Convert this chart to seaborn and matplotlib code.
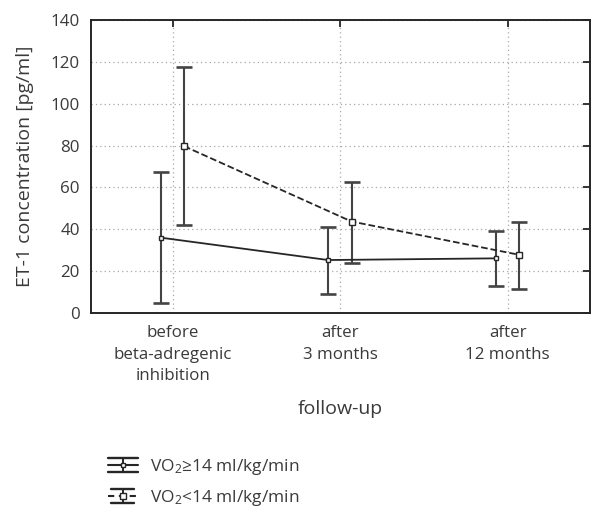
import numpy as np
import pandas as pd
import matplotlib
matplotlib.use("Agg")
import matplotlib.pyplot as plt
import seaborn as sns
from matplotlib.lines import Line2D
from matplotlib.legend_handler import HandlerBase

# values
periods = ["before\nbeta-adregenic\ninhibition", "after\n3 months", "after\n12 months"]
groups = ["VO$\\mathregular{_2}$\u226514 ml/kg/min", "VO$\\mathregular{_2}$<14 ml/kg/min"]
mean_hi = [36.0, 25.3, 26.1]
upper_hi = [67.3, 41.3, 39.4]
lower_hi = [4.9, 9.2, 12.9]
mean_lo = [79.7, 43.7, 27.8]
upper_lo = [117.5, 62.7, 43.6]
lower_lo = [41.8, 23.8, 11.4]

sns.set_style("white")
plt.rcParams["font.family"] = ["Open Sans", "DejaVu Sans"]
plt.rcParams["mathtext.default"] = "regular"
txt = "#3a3a3a"
ink = "#262626"


class ErrorbarKey(HandlerBase):
    # legend key drawn like the original: cap / line+marker / cap
    def create_artists(self, legend, orig, xdescent, ydescent, width, height, fontsize, trans):
        ls = orig.get_linestyle()
        yc = height / 2 - ydescent
        half = 5.2
        x0, x1 = -xdescent, width - xdescent
        xm = (x0 + x1) / 2
        inset = 0 if ls == "-" else 2.5
        arts = [
            Line2D([x0, x1], [yc, yc], color=ink, lw=1.5, ls=ls if ls == "-" else (0, (3, 2.2))),
            Line2D([x0 + inset, x1 - inset], [yc + half, yc + half], color=ink, lw=1.7),
            Line2D([x0 + inset, x1 - inset], [yc - half, yc - half], color=ink, lw=1.7),
            Line2D([xm, xm], [yc - half, yc + half], color=ink, lw=1.4),
            Line2D([xm], [yc], marker="s", ms=orig.get_markersize(), mfc="white", mec=ink, mew=1.0),
        ]
        for a in arts:
            a.set_transform(trans)
        return arts


rows = []
for i in range(3):
    rows.append({"period": i, "group": groups[0], "mean": mean_hi[i], "lo": lower_hi[i], "hi": upper_hi[i]})
    rows.append({"period": i, "group": groups[1], "mean": mean_lo[i], "lo": lower_lo[i], "hi": upper_lo[i]})
df = pd.DataFrame(rows)
shift = {groups[0]: -0.072, groups[1]: 0.068}
df["x"] = df["period"] + df["group"].map(shift)

fig = plt.figure(figsize=(5.91, 5.11), dpi=100)
ax = fig.add_axes([0.154, 0.3875, 0.844, 0.5735])

styles = {groups[0]: ("-", 3.5), groups[1]: ("--", 4.5)}
handles = []
for g in groups:
    sub = df[df["group"] == g]
    ls, ms = styles[g]
    sns.lineplot(data=sub, x="x", y="mean", ax=ax, color=ink, linestyle=ls, lw=1.3,
                 marker="s", markersize=ms, markerfacecolor="white",
                 markeredgecolor=ink, markeredgewidth=1.0, legend=False, zorder=4)
    ax.errorbar(sub["x"], sub["mean"],
                yerr=[sub["mean"] - sub["lo"], sub["hi"] - sub["mean"]],
                fmt="none", ecolor="#444444", elinewidth=1.5, capsize=6,
                capthick=1.9, zorder=3)
    handles.append(Line2D([], [], ls=ls, marker="s", ms=ms, color=ink))

ax.set_xlim(-0.487, 2.49)
ax.set_ylim(0, 140)
ax.set_xticks(range(3))
ax.set_xticklabels(periods, linespacing=1.45)
ax.set_yticks(range(0, 141, 20))
ax.grid(True, linestyle=(0, (1, 2.5)), color="#a8a8a8", lw=0.9)
ax.set_axisbelow(True)
for s in ax.spines.values():
    s.set_color(ink)
    s.set_linewidth(1.4)
ax.tick_params(direction="in", length=5, width=1.3, color=ink, top=True, right=True,
               labelsize=12.2, labelcolor=txt, pad=8)
ax.tick_params(axis="x", pad=9)
ax.set_xlabel("follow-up", fontsize=14, color=txt, labelpad=11)
ax.set_ylabel("ET-1 concentration [pg/ml]", fontsize=14, color=txt, labelpad=12)

fig.legend(handles=handles, labels=groups, loc="upper left",
           handler_map={h: ErrorbarKey() for h in handles},
           bbox_to_anchor=(0.182, 0.106), frameon=False, fontsize=12.5,
           labelcolor=txt, handlelength=1.73, handletextpad=0.7, labelspacing=0.66,
           borderaxespad=0, borderpad=0)

fig.savefig("out.png", dpi=100)
